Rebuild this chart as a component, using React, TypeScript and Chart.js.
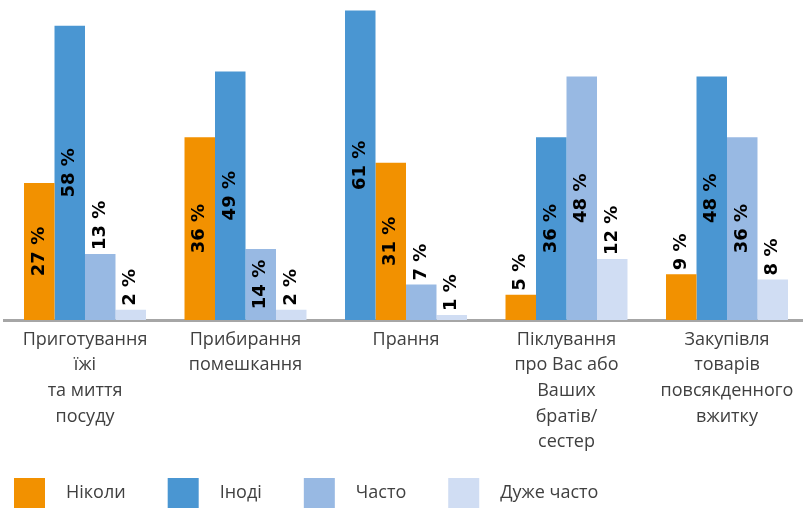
import React, { useEffect, useRef } from "react";
import { Chart, registerables } from "chart.js";

Chart.register(...registerables);

const categories: string[][] = [
  ["Приготування", "їжі", "та миття", "посуду"],
  ["Прибирання", "помешкання"],
  ["Прання"],
  ["Піклування", "про Вас або", "Ваших", "братів/", "сестер"],
  ["Закупівля", "товарів", "повсякденного", "вжитку"],
];

const seriesNames = ["Ніколи", "Іноді", "Часто", "Дуже часто"];
const seriesColors = ["#F29100", "#4A96D2", "#98B9E3", "#D0DDF3"];

const neverValues = [27, 36, 31, 5, 9];
const sometimesValues = [58, 49, 61, 36, 48];
const oftenValues = [13, 14, 7, 48, 36];
const veryOftenValues = [2, 2, 1, 12, 8];

const seriesValues = [neverValues, sometimesValues, oftenValues, veryOftenValues];

// order in which the series appear inside each category group
const groupOrder = [
  [0, 1, 2, 3],
  [0, 1, 2, 3],
  [1, 0, 2, 3],
  [0, 1, 2, 3],
  [0, 1, 2, 3],
];

const TEXT_FONT = '"Open Sans"';
const LABEL_FONT = '"DejaVu Sans"';

const barLabelPlugin = {
  id: "barLabels",
  afterDatasetsDraw(chart: any) {
    const ctx = chart.ctx;
    chart.data.datasets.forEach((ds: any, di: number) => {
      const meta = chart.getDatasetMeta(di);
      meta.data.forEach((bar: any, i: number) => {
        const v = ds.data[i] as number;
        const text = v + " %";
        const { x, y, base } = bar.getProps(["x", "y", "base"], true);
        ctx.save();
        ctx.font = `bold 18px ${LABEL_FONT}`;
        ctx.fillStyle = "#000000";
        ctx.textBaseline = "middle";
        if (v >= 14) {
          ctx.translate(x, (y + base) / 2);
          ctx.rotate(-Math.PI / 2);
          ctx.textAlign = "center";
        } else {
          ctx.translate(x, y - 4);
          ctx.rotate(-Math.PI / 2);
          ctx.textAlign = "left";
        }
        ctx.fillText(text, 0, 0);
        ctx.restore();
      });
    });
  },
};

const legendPlugin = {
  id: "customLegend",
  afterDraw(chart: any) {
    const ctx = chart.ctx;
    const box = 30;
    const boxTop = 478;
    const gap = 21;
    const spacing = 42;
    let x = 14;
    ctx.save();
    ctx.font = `18px ${TEXT_FONT}`;
    ctx.textBaseline = "middle";
    ctx.textAlign = "left";
    seriesNames.forEach((name, i) => {
      ctx.fillStyle = seriesColors[i];
      ctx.fillRect(x, boxTop, box + 1, box);
      ctx.fillStyle = "#404040";
      const tx = x + box + 1 + gap;
      ctx.fillText(name, tx, boxTop + box / 2);
      x = tx + ctx.measureText(name).width + spacing;
    });
    ctx.restore();
  },
};

export default function App() {
  const canvasRef = useRef<HTMLCanvasElement | null>(null);

  useEffect(() => {
    if (!canvasRef.current) return;
    const datasets = [0, 1, 2, 3].map((slot) => ({
      label: seriesNames[slot],
      data: categories.map((_, c) => seriesValues[groupOrder[c][slot]][c]),
      backgroundColor: categories.map((_, c) => seriesColors[groupOrder[c][slot]]),
      borderWidth: 0,
      categoryPercentage: 0.76,
      barPercentage: 1.0,
    }));

    const chart = new Chart(canvasRef.current, {
      type: "bar",
      data: { labels: categories, datasets },
      options: {
        animation: false,
        responsive: true,
        maintainAspectRatio: false,
        layout: { padding: { top: 8, left: 4.75, right: 0.75, bottom: 0 } },
        plugins: {
          legend: { display: false },
          tooltip: { enabled: false },
        },
        scales: {
          x: {
            grid: { display: false, drawTicks: false },
            border: { display: true, color: "#A6A6A6", width: 3 },
            ticks: {
              color: "#404040",
              font: { family: TEXT_FONT, size: 18, lineHeight: 1.42 },
              padding: 7,
              maxRotation: 0,
              autoSkip: false,
            },
            afterFit: (s: any) => {
              s.height = 190;
            },
          },
          y: { display: false, min: 0, max: 61.5 },
        },
      },
      plugins: [barLabelPlugin, legendPlugin],
    });

    return () => chart.destroy();
  }, []);

  return (
    <div style={{ position: "fixed", left: 0, top: 0, width: 803, height: 510, overflow: "hidden", background: "#fff" }}>
      <div style={{ position: "relative", width: 808, height: 510 }}>
        <canvas ref={canvasRef} />
      </div>
    </div>
  );
}
